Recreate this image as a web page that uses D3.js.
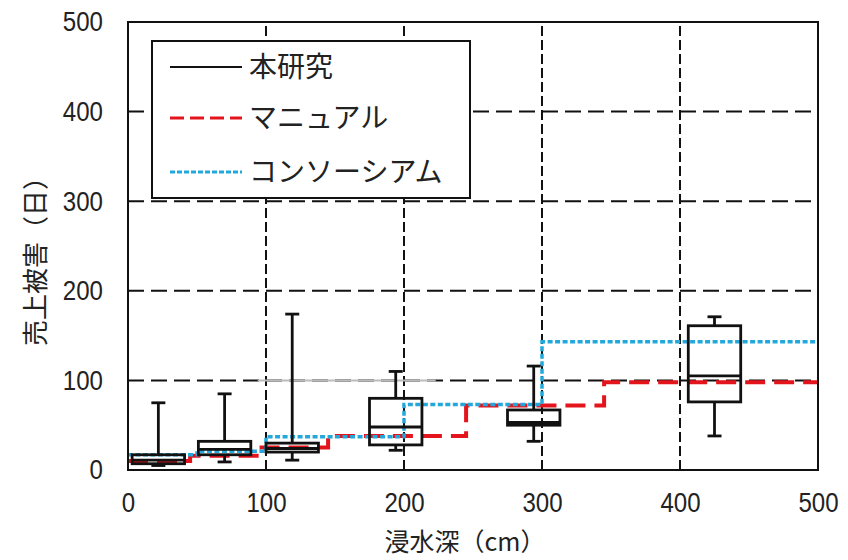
<!DOCTYPE html>
<html>
<head>
<meta charset="utf-8">
<script src="https://cdn.jsdelivr.net/npm/d3@7"></script>
<style>
  body { margin: 0; background: #fff; }
  .tick-label { font-family: "Liberation Sans Narrow", "Liberation Sans", sans-serif; font-size: 28px; fill: #222; }
  .jp { font-family: "Noto Sans CJK JP", sans-serif; fill: #222; }
</style>
</head>
<body>
<div id="root"></div>
<script>
const width = 848;
const height = 560;
const margin = {top: 22, right: 30, bottom: 90, left: 128};

// axis ticks
const xTicks = [0, 100, 200, 300, 400, 500];
const yTicks = [0, 100, 200, 300, 400, 500];

// box plots (本研究)
const boxCenters = [22, 70, 119, 194, 294, 425];
const boxLow     = [5, 9, 11, 22, 32, 38];
const boxQ1      = [7, 17, 20, 28, 50, 76];
const boxMedian  = [11, 23, 24, 48, 53, 105];
const boxQ3      = [17, 32, 30, 80, 67, 161];
const boxHigh    = [75, 85, 174, 110, 116, 171];
const boxWidth = 38;

// step lines
const manualX = [0, 45, 95, 145, 245, 345, 500];
const manualY = [10, 16, 25, 38, 72, 98, 98];
const consortX = [0, 50, 100, 200, 300, 500];
const consortY = [17, 21, 37, 73, 143, 143];

const legendLabels = ["本研究", "マニュアル", "コンソーシアム"];

const svg = d3.select("#root").append("svg")
  .attr("width", width)
  .attr("height", height);

const x = d3.scaleLinear().domain([0, 500]).range([margin.left, width - margin.right]);
const y = d3.scaleLinear().domain([0, 500]).range([height - margin.bottom, margin.top]);

// grid
svg.append("g").selectAll("line")
  .data(yTicks.slice(1, -1))
  .enter().append("line")
  .attr("x1", x(0)).attr("x2", x(500))
  .attr("y1", d => y(d)).attr("y2", d => y(d))
  .attr("stroke", "#111").attr("stroke-width", 2)
  .attr("stroke-dasharray", "16,7");

svg.append("g").selectAll("line")
  .data(xTicks.slice(1, -1))
  .enter().append("line")
  .attr("x1", d => x(d)).attr("x2", d => x(d))
  .attr("y1", y(0)).attr("y2", y(500))
  .attr("stroke", "#111").attr("stroke-width", 2)
  .attr("stroke-dasharray", "10,4");

// faint gray segment over the 100 grid line
svg.append("line")
  .attr("x1", x(94)).attr("x2", x(223))
  .attr("y1", y(100)).attr("y2", y(100))
  .attr("stroke", "#bbb").attr("stroke-width", 2);

// step lines
const step = d3.line().x(d => x(d[0])).y(d => y(d[1])).curve(d3.curveStepAfter);

svg.append("path")
  .datum(manualX.map((d, i) => [d, manualY[i]]))
  .attr("d", step)
  .attr("fill", "none")
  .attr("stroke", "#e3141c").attr("stroke-width", 4)
  .attr("stroke-dasharray", "20,9");

svg.append("path")
  .datum(consortX.map((d, i) => [d, consortY[i]]))
  .attr("d", step)
  .attr("fill", "none")
  .attr("stroke", "#22a8da").attr("stroke-width", 3.5)
  .attr("stroke-dasharray", "5,2.5");

// boxes
const boxes = svg.append("g").selectAll("g")
  .data(boxCenters.map((c, i) => ({c, lo: boxLow[i], q1: boxQ1[i], med: boxMedian[i], q3: boxQ3[i], hi: boxHigh[i]})))
  .enter().append("g")
  .attr("stroke", "#111").attr("stroke-width", 2.8).attr("fill", "none");

const bw = x(boxWidth) - x(0);
const cap = 14;

boxes.append("line")
  .attr("x1", d => x(d.c)).attr("x2", d => x(d.c))
  .attr("y1", d => y(d.hi)).attr("y2", d => y(d.q3));
boxes.append("line")
  .attr("x1", d => x(d.c)).attr("x2", d => x(d.c))
  .attr("y1", d => y(d.q1)).attr("y2", d => y(d.lo));
boxes.append("line")
  .attr("x1", d => x(d.c) - cap / 2).attr("x2", d => x(d.c) + cap / 2)
  .attr("y1", d => y(d.hi)).attr("y2", d => y(d.hi));
boxes.append("line")
  .attr("x1", d => x(d.c) - cap / 2).attr("x2", d => x(d.c) + cap / 2)
  .attr("y1", d => y(d.lo)).attr("y2", d => y(d.lo));
boxes.append("rect")
  .attr("x", d => x(d.c) - bw / 2)
  .attr("y", d => y(d.q3))
  .attr("width", bw)
  .attr("height", d => y(d.q1) - y(d.q3));
boxes.append("line")
  .attr("x1", d => x(d.c) - bw / 2).attr("x2", d => x(d.c) + bw / 2)
  .attr("y1", d => y(d.med)).attr("y2", d => y(d.med));

// frame
svg.append("rect")
  .attr("x", x(0)).attr("y", y(500))
  .attr("width", x(500) - x(0)).attr("height", y(0) - y(500))
  .attr("fill", "none").attr("stroke", "#111").attr("stroke-width", 2);

// axes (labels squeezed horizontally to mimic a narrow face)
const squeeze = 0.86;

const xAxis = svg.append("g")
  .attr("transform", `translate(0,${y(0)})`)
  .call(d3.axisBottom(x).tickValues(xTicks).tickSize(0).tickPadding(22));
xAxis.select(".domain").remove();
xAxis.selectAll("text")
  .attr("class", "tick-label").attr("fill", null)
  .attr("transform", `scale(${squeeze},1)`);

const yAxis = svg.append("g")
  .attr("transform", `translate(${x(0)},0)`)
  .call(d3.axisLeft(y).tickValues(yTicks).tickSize(0));
yAxis.select(".domain").remove();
yAxis.selectAll("text")
  .attr("class", "tick-label").attr("fill", null)
  .attr("x", -25 / squeeze)
  .attr("transform", `scale(${squeeze},1)`);

// axis titles
svg.append("text")
  .attr("class", "jp")
  .attr("x", 465).attr("y", 551)
  .attr("text-anchor", "middle")
  .attr("font-size", "25px")
  .text("浸水深（cm）");

svg.append("text")
  .attr("class", "jp")
  .attr("transform", "translate(45,255) rotate(-90)")
  .attr("text-anchor", "middle")
  .attr("font-size", "26px")
  .text("売上被害（日）");

// legend
const legend = svg.append("g").attr("id", "legend");
legend.append("rect")
  .attr("x", 152).attr("y", 41)
  .attr("width", 318).attr("height", 157)
  .attr("fill", "#fff").attr("stroke", "#111").attr("stroke-width", 2);

const legendStyles = [
  {color: "#111", width: 2, dash: null},
  {color: "#e3141c", width: 3, dash: "14,6"},
  {color: "#22a8da", width: 3, dash: "5,2"}
];
const legendRows = [67, 118, 172];

legend.selectAll("line")
  .data(legendLabels)
  .enter().append("line")
  .attr("x1", 170).attr("x2", 242)
  .attr("y1", (d, i) => legendRows[i]).attr("y2", (d, i) => legendRows[i])
  .attr("stroke", (d, i) => legendStyles[i].color)
  .attr("stroke-width", (d, i) => legendStyles[i].width)
  .attr("stroke-dasharray", (d, i) => legendStyles[i].dash);

legend.selectAll("text")
  .data(legendLabels)
  .enter().append("text")
  .attr("class", "jp")
  .attr("x", 249)
  .attr("y", (d, i) => legendRows[i] + 10)
  .attr("font-size", "28px")
  .text(d => d);
</script>
</body>
</html>
